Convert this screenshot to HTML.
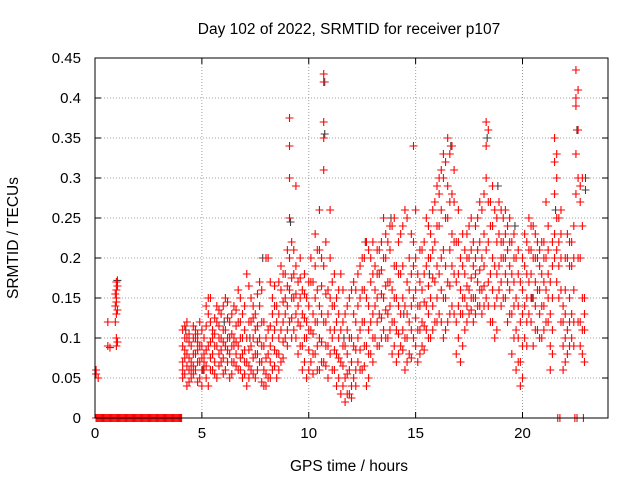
<!DOCTYPE html>
<html><head><meta charset="utf-8"><style>
body{margin:0;background:#fff}
svg{display:block;font-family:"Liberation Sans",sans-serif}
</style></head><body>
<svg id="chart" width="640" height="480" viewBox="0 0 640 480">
<rect width="640" height="480" fill="#fff"/>
<text x="349" y="34" font-size="15.5" text-anchor="middle">Day 102 of 2022, SRMTID for receiver p107</text>
<text x="349" y="471" font-size="15.5" text-anchor="middle">GPS time / hours</text>
<text transform="translate(18,238) rotate(-90)" font-size="15.5" text-anchor="middle">SRMTID / TECUs</text>
<g id="grid"></g><g id="ticks"></g><g id="dark"></g><g id="red"></g>
<rect x="95" y="58" width="513" height="360" fill="none" stroke="#000" stroke-width="1"/>
</svg>
<script>
const xTicks=[0,5,10,15,20];
const yTicks=[0,0.05,0.1,0.15,0.2,0.25,0.3,0.35,0.4,0.45];
const yTickLabels=["0","0.05","0.1","0.15","0.2","0.25","0.3","0.35","0.4","0.45"];
const hours=[0.05,0.15,0.6,0.7,1.0,4.1,4.3,4.5,4.7,4.9,5.1,5.3,5.5,5.7,5.9,6.1,6.3,6.5,6.7,6.9,7.1,7.3,7.5,7.7,7.9,8.1,8.3,8.5,8.7,8.9,9.1,9.3,9.5,9.7,9.9,10.1,10.3,10.5,10.7,10.9,11.1,11.3,11.5,11.7,11.9,12.1,12.3,12.5,12.7,12.9,13.1,13.3,13.5,13.7,13.9,14.1,14.3,14.5,14.7,14.9,15.1,15.3,15.5,15.7,15.9,16.1,16.3,16.5,16.7,16.9,17.1,17.3,17.5,17.7,17.9,18.1,18.3,18.5,18.7,18.9,19.1,19.3,19.5,19.7,19.9,20.1,20.3,20.5,20.7,20.9,21.1,21.3,21.5,21.7,21.9,22.1,22.3,22.5,22.7,22.9];
const srmtid=[[0.06,0.055],[0.05],[0.12,0.09],[0.088],[0.17,0.16,0.15,0.145,0.13,0.1,0.09],
[0.05,0.07,0.09,0.11,0.06],[0.04,0.08,0.1,0.12,0.065],[0.05,0.07,0.09,0.06],[0.06,0.08,0.1,0.11],[0.05,0.07,0.09,0.12],
[0.06,0.08,0.1,0.07],[0.04,0.09,0.13,0.15],[0.06,0.08,0.11,0.1],[0.05,0.09,0.12,0.14],[0.07,0.1,0.085,0.13],
[0.06,0.09,0.11,0.15],[0.05,0.08,0.1,0.12],[0.07,0.1,0.14,0.09],[0.06,0.09,0.12,0.16],[0.05,0.08,0.1,0.13],
[0.04,0.07,0.1,0.18],[0.06,0.09,0.12,0.15],[0.05,0.08,0.11,0.13],[0.07,0.1,0.14,0.17],[0.04,0.06,0.09,0.12],
[0.05,0.08,0.11,0.2],[0.06,0.1,0.13,0.15],[0.05,0.08,0.12,0.14],[0.07,0.11,0.16,0.19],[0.1,0.13,0.15,0.18],
[0.12,0.16,0.2,0.25,0.3,0.34,0.375],[0.11,0.15,0.18,0.21],[0.08,0.12,0.14,0.17],[0.06,0.09,0.13,0.16],[0.05,0.1,0.12,0.15],
[0.07,0.11,0.17,0.2],[0.08,0.12,0.15,0.19,0.23],[0.06,0.1,0.14,0.21,0.26],[0.07,0.12,0.19,0.31,0.37,0.42,0.43,0.35],[0.05,0.09,0.13,0.16],
[0.06,0.1,0.14,0.17],[0.04,0.08,0.12,0.15],[0.03,0.07,0.11,0.18],[0.02,0.05,0.09,0.13],[0.03,0.06,0.1,0.15],
[0.05,0.09,0.13,0.17],[0.07,0.1,0.14,0.18],[0.06,0.12,0.16,0.2],[0.04,0.09,0.15,0.22],[0.08,0.12,0.17,0.2],
[0.1,0.14,0.16,0.19],[0.09,0.13,0.18,0.21],[0.11,0.15,0.2,0.25],[0.1,0.13,0.17,0.22],[0.08,0.12,0.16,0.24],
[0.07,0.11,0.15,0.19],[0.09,0.13,0.18,0.23],[0.06,0.1,0.14,0.26],[0.08,0.12,0.16,0.2],[0.1,0.15,0.19,0.22,0.34],
[0.07,0.11,0.14,0.18],[0.09,0.12,0.16,0.21],[0.11,0.14,0.19,0.25],[0.1,0.15,0.2,0.23],[0.12,0.17,0.22,0.27],
[0.13,0.18,0.24,0.28,0.3],[0.1,0.15,0.21,0.3,0.33],[0.12,0.17,0.25,0.29,0.35],[0.14,0.19,0.23,0.28,0.34],[0.08,0.12,0.17,0.22],
[0.07,0.13,0.16,0.2],[0.11,0.15,0.18,0.21],[0.13,0.16,0.2,0.24],[0.12,0.15,0.19,0.22],[0.14,0.17,0.21,0.25],
[0.13,0.16,0.2,0.26],[0.15,0.21,0.3,0.34,0.37],[0.12,0.18,0.24,0.27],[0.1,0.14,0.19,0.26],[0.16,0.19,0.23,0.27],
[0.15,0.2,0.22,0.25],[0.12,0.17,0.21,0.24],[0.08,0.13,0.18,0.22],[0.06,0.11,0.15,0.2],[0.04,0.07,0.12,0.17],
[0.1,0.14,0.19,0.23],[0.13,0.17,0.21,0.25],[0.09,0.15,0.2,0.24],[0.11,0.16,0.22,0.2],[0.1,0.14,0.18,0.22],
[0.12,0.16,0.2,0.27],[0.06,0.09,0.13,0.17],[0.2,0.23,0.28,0.32,0.35],[0.15,0.19,0.22,0.25],[0.06,0.09,0.12,0.14],
[0.08,0.11,0.2,0.23],[0.1,0.13,0.19,0.22],[0.28,0.33,0.39,0.4,0.435],[0.09,0.12,0.2,0.27,0.29],[0.07,0.11,0.13,0.15]];
const hours2=[0.95,1.05,4.2,4.4,4.6,4.8,5.0,5.2,5.4,5.6,5.8,6.0,6.2,6.4,6.6,6.8,7.0,7.2,7.4,7.6,7.8,8.0,8.2,8.4,8.6,8.8,9.0,9.2,9.4,9.6,9.8,10.0,10.2,10.4,10.6,10.8,11.0,11.2,11.4,11.6,11.8,12.0,12.2,12.4,12.6,12.8,13.0,13.2,13.4,13.6,13.8,14.0,14.2,14.4,14.6,14.8,15.0,15.2,15.4,15.6,15.8,16.0,16.2,16.4,16.6,16.8,17.0,17.2,17.4,17.6,17.8,18.0,18.2,18.4,18.6,18.8,19.0,19.2,19.4,19.6,19.8,20.0,20.2,20.4,20.6,20.8,21.0,21.2,21.4,21.6,21.8,22.0,22.2,22.4,22.6,22.8];
const srmtid2=[[0.155,0.14,0.12],[0.165,0.135,0.095],
[0.055,0.075,0.085,0.1,0.115],[0.045,0.06,0.075,0.095,0.105],[0.055,0.065,0.08,0.1,0.115],[0.045,0.07,0.085,0.095,0.105],[0.04,0.06,0.075,0.09,0.11],
[0.05,0.065,0.085,0.115,0.14],[0.06,0.075,0.095,0.12,0.15],[0.055,0.07,0.09,0.105,0.125],[0.065,0.08,0.1,0.115,0.135],[0.055,0.075,0.095,0.11,0.14],
[0.07,0.085,0.1,0.125,0.145],[0.055,0.07,0.09,0.105,0.13],[0.065,0.08,0.095,0.115,0.135],[0.06,0.075,0.1,0.12,0.15],[0.055,0.07,0.085,0.11,0.14],
[0.05,0.065,0.085,0.12,0.165],[0.055,0.075,0.1,0.125,0.14],[0.06,0.08,0.095,0.115,0.155],[0.045,0.07,0.09,0.12,0.16],[0.04,0.055,0.075,0.1,0.2],
[0.05,0.07,0.09,0.115,0.17],[0.065,0.085,0.11,0.14,0.165],[0.06,0.08,0.1,0.13,0.17],[0.075,0.095,0.12,0.145,0.18],[0.09,0.11,0.14,0.165,0.21],
[0.1,0.125,0.15,0.175,0.22],[0.1,0.13,0.155,0.19,0.29],[0.09,0.115,0.15,0.175,0.2],[0.07,0.1,0.125,0.155,0.18],[0.06,0.085,0.11,0.14,0.17],
[0.055,0.08,0.105,0.13,0.17],[0.06,0.09,0.12,0.16,0.21],[0.07,0.095,0.13,0.165,0.2],[0.065,0.09,0.12,0.155,0.22],[0.08,0.11,0.15,0.2,0.26],
[0.06,0.085,0.11,0.14,0.18],[0.05,0.075,0.1,0.13,0.16],[0.04,0.065,0.09,0.12,0.16],[0.03,0.055,0.08,0.11,0.14],[0.025,0.04,0.07,0.1,0.16],
[0.04,0.06,0.085,0.12,0.16],[0.06,0.085,0.11,0.15,0.19],[0.065,0.09,0.12,0.16,0.2],[0.05,0.08,0.11,0.14,0.21],[0.07,0.1,0.13,0.18,0.22],
[0.09,0.12,0.15,0.18,0.21],[0.1,0.125,0.155,0.185,0.22],[0.1,0.135,0.165,0.2,0.23],[0.11,0.14,0.17,0.21,0.24],[0.09,0.12,0.15,0.19,0.25],
[0.08,0.105,0.14,0.18,0.22],[0.085,0.11,0.15,0.19,0.24],[0.07,0.1,0.13,0.17,0.25],[0.075,0.11,0.14,0.18,0.23],[0.09,0.125,0.16,0.2,0.26],
[0.08,0.11,0.14,0.17,0.21],[0.085,0.115,0.145,0.18,0.22],[0.1,0.13,0.165,0.2,0.24],[0.11,0.14,0.175,0.21,0.26],[0.12,0.15,0.19,0.24,0.29],
[0.12,0.16,0.2,0.26,0.31],[0.11,0.15,0.19,0.25,0.32],[0.13,0.165,0.21,0.27,0.33],[0.13,0.18,0.22,0.27,0.31],[0.1,0.14,0.18,0.22,0.26],
[0.09,0.13,0.15,0.19,0.23],[0.12,0.14,0.165,0.2,0.23],[0.135,0.15,0.175,0.21,0.25],[0.13,0.15,0.18,0.2,0.24],[0.14,0.16,0.185,0.22,0.27],
[0.14,0.165,0.19,0.23,0.28],[0.14,0.17,0.22,0.27,0.36],[0.12,0.16,0.2,0.24,0.29],[0.11,0.15,0.18,0.22,0.25],[0.14,0.17,0.2,0.22,0.26],
[0.15,0.18,0.2,0.23,0.26],[0.13,0.16,0.19,0.22,0.25],[0.1,0.14,0.17,0.2,0.23],[0.07,0.1,0.14,0.18,0.21],[0.05,0.09,0.13,0.16,0.2],
[0.09,0.12,0.15,0.18,0.22],[0.12,0.15,0.18,0.21,0.24],[0.11,0.14,0.17,0.2,0.23],[0.1,0.13,0.16,0.19,0.21],[0.11,0.14,0.17,0.2,0.22],
[0.12,0.15,0.18,0.21,0.24],[0.08,0.11,0.15,0.19,0.22],[0.17,0.21,0.25,0.3,0.33],[0.12,0.16,0.2,0.23,0.26],[0.07,0.1,0.13,0.16,0.2],
[0.09,0.12,0.15,0.19,0.22],[0.09,0.12,0.16,0.2,0.24],[0.12,0.2,0.3,0.36,0.41],[0.08,0.11,0.15,0.24,0.3],[0.08,0.1,0.12,0.14,0.16]];
const zeroHours=[0.05,0.1,0.15,0.2,0.25,0.3,0.35,0.4,0.45,0.5,0.55,0.6,0.65,0.7,0.75,0.8,0.85,0.9,0.95,1.0,1.05,1.1,1.15,1.2,1.25,1.3,1.35,1.4,1.45,1.5,1.55,1.6,1.65,1.7,1.75,1.8,1.85,1.9,1.95,2.0,2.05,2.1,2.15,2.2,2.25,2.3,2.35,2.4,2.45,2.5,2.55,2.6,2.65,2.7,2.75,2.8,2.85,2.9,2.95,3.0,3.05,3.1,3.15,3.2,3.25,3.3,3.35,3.4,3.45,3.5,3.55,3.6,3.65,3.7,3.75,3.8,3.85,3.9,3.95,4.0,4.05,21.65,21.75,22.45,22.55,22.85];
const darkHours=[1.0,4.2,5.0,6.0,7.2,7.8,9.1,10.7,10.7,11.6,12.6,13.8,14.4,15.6,16.6,18.3,18.8,19.6,20.4,21.5,22.5,22.9,22.9];
const darkValues=[0.172,0.11,0.06,0.12,0.1,0.2,0.245,0.42,0.355,0.1,0.22,0.25,0.13,0.18,0.34,0.35,0.29,0.24,0.15,0.26,0.36,0.3,0.285];
const NS="http://www.w3.org/2000/svg";
const L=95,R=608,T=58,B=418,XMAX=24,YMAX=0.45;
const xs=v=>L+(R-L)*v/XMAX, ys=v=>B-(B-T)*v/YMAX;
function mk(tag,attrs,parent){const e=document.createElementNS(NS,tag);for(const k in attrs)e.setAttribute(k,attrs[k]);parent.appendChild(e);return e;}
const grid=document.getElementById('grid'),ticks=document.getElementById('ticks');
xTicks.forEach((t,i)=>{const x=xs(t);
 if(t>0){const g=mk('line',{x1:x,x2:x,y1:T,y2:B,stroke:'#a0a0a0','stroke-dasharray':'1,2'},grid);
 
 }
 mk('line',{x1:x,x2:x,y1:B,y2:B-6,stroke:'#000'},ticks);
 mk('line',{x1:x,x2:x,y1:T,y2:T+6,stroke:'#000'},ticks);
 const tx=mk('text',{x:x,y:B+20,'font-size':15,'text-anchor':'middle'},ticks);tx.textContent=t;
 
 });
yTicks.forEach((t,i)=>{const y=ys(t);
 if(t>0&&t<YMAX){const g=mk('line',{x1:L,x2:R,y1:y,y2:y,stroke:'#a0a0a0','stroke-dasharray':'1,2'},grid);
 
 }
 mk('line',{x1:L,x2:L+6,y1:y,y2:y,stroke:'#000'},ticks);
 mk('line',{x1:R,x2:R-6,y1:y,y2:y,stroke:'#000'},ticks);
 const tx=mk('text',{x:L-14,y:y+5,'font-size':15,'text-anchor':'end'},ticks);tx.textContent=yTickLabels[i];
 
 });
function plus(x,y,col,parent,name){const p=mk('path',{d:`M${x-4},${y}h8M${x},${y-4}v8`,stroke:col,'stroke-width':1.1},parent);
 
 }
const dark=document.getElementById('dark'),red=document.getElementById('red');
darkHours.forEach((h,i)=>plus(xs(h)+1,ys(darkValues[i]),'#404040',dark,'dark-point'));
hours.forEach((h,i)=>srmtid[i].forEach(v=>plus(xs(h),ys(v),'#ff0000',red,'srmtid-point')));
hours2.forEach((h,i)=>srmtid2[i].forEach(v=>plus(xs(h),ys(v),'#ff0000',red,'srmtid-point')));
zeroHours.forEach(h=>plus(xs(h),ys(0),'#ff0000',red,'zero-point'));
</script>
</body></html>
